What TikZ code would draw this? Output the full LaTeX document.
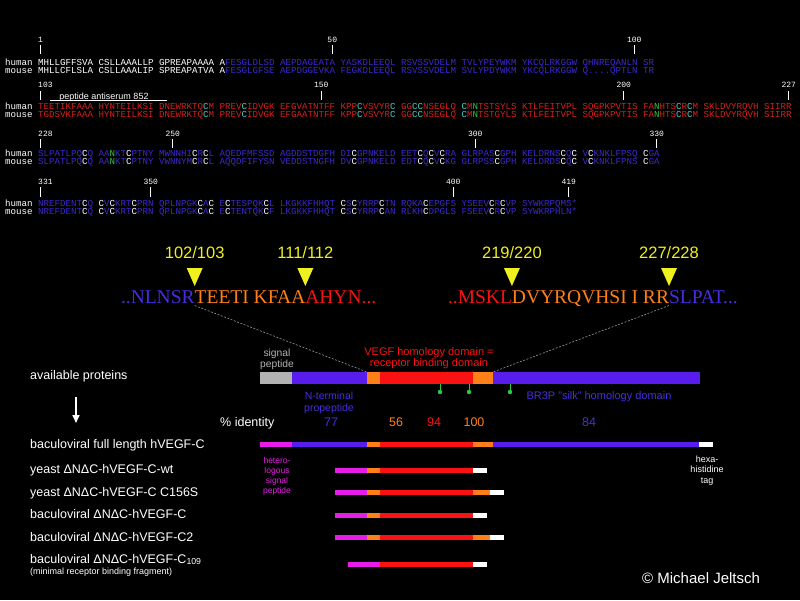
\documentclass[tikz,border=0pt]{standalone}
\usepackage{fontspec}
\setmainfont{Liberation Sans}
\newfontfamily\seqmono{Liberation Mono}
\newfontfamily\seqserif{Liberation Serif}
\usepackage{tikz}
\usetikzlibrary{arrows.meta, calc, positioning}
\definecolor{domblue}{RGB}{88,28,236}
\definecolor{domred}{RGB}{250,18,18}
\definecolor{domorange}{RGB}{255,128,24}
\definecolor{siggray}{RGB}{178,178,178}
\definecolor{hetmagenta}{RGB}{232,28,232}
\definecolor{txtblue}{RGB}{72,44,224}
\definecolor{seqblue}{RGB}{60,40,205}
\definecolor{seqred}{RGB}{215,32,24}
\definecolor{cyscyan}{RGB}{70,205,205}
\definecolor{glygreen}{RGB}{40,205,60}
\definecolor{cutyellow}{RGB}{240,240,30}
\definecolor{cutgray}{RGB}{150,150,150}
\newcommand\cysC{\textcolor{cyscyan}{C}}
\newcommand\cysW{\textcolor{white}{C}}
\newcommand\glyN{\textcolor{glygreen}{N}}

\begin{document}
\begin{tikzpicture}[x=1pt, y=-1pt,
  seqrow/.style={anchor=base west, inner sep=0pt, text=white, font=\seqmono\fontsize{9.165}{10}\selectfont},
  posnum/.style={inner sep=0pt, text=white, font=\seqmono\fontsize{8}{9}\selectfont},
  postick/.style={white, line width=0.6pt},
  cutseq/.style={anchor=base west, inner sep=0pt, outer sep=0pt, font=\seqserif\fontsize{19.5}{21}\selectfont},
  cutlbl/.style={inner sep=0pt, text=cutyellow, font=\fontsize{16.5}{18}\selectfont},
  cutline/.style={cutgray, line width=0.6pt, dash pattern=on 2pt off 1.5pt},
  seg/.style={rectangle, inner sep=0pt, outer sep=0pt, minimum height=12pt},
  cseg/.style={rectangle, inner sep=0pt, outer sep=0pt, minimum height=5pt},
  domlbl/.style={align=center, inner sep=0pt, font=\fontsize{10.5}{11.5}\selectfont},
  pctnum/.style={anchor=base, inner sep=0pt, font=\fontsize{12.5}{14}\selectfont},
  protlbl/.style={anchor=base west, inner sep=0pt, text=white, font=\fontsize{12.5}{14}\selectfont},
  glypin/.style={glygreen, line width=0.9pt}]

\path[use as bounding box, fill=black] (0,0) rectangle (800,600);

\begin{scope}
  \node[posnum, anchor=west] (n1) at (38,40) {1};   \draw[postick] (40.75,45) -- (40.75,54);
  \node[posnum] (n50) at (332.25,40) {50};          \draw[postick] (332.25,45) -- (332.25,54);
  \node[posnum] (n100) at (634.25,40) {100};        \draw[postick] (634.25,45) -- (634.25,54);
  \node[seqrow] (hum1) at (5,65) {human MHLLGFFSVA CSLLAAALLP GPREAPAAAA A\textcolor{seqblue}{FESGLDLSD AEPDAGEATA YASKDLEEQL RSVSSVDELM TVLYPEYWKM YKCQLRKGGW QHNREQANLN SR}};
  \node[seqrow] (mou1) at (5,73.5) {mouse MHLLCFLSLA CSLLAAALIP SPREAPATVA A\textcolor{seqblue}{FESGLGFSE AEPDGGEVKA FEGKDLEEQL RSVSSVDELM SVLYPDYWKM YKCQLRKGGW Q....QPTLN TR}};

  \node[posnum, anchor=west] (n103) at (38,85) {103}; \draw[postick] (40.75,91) -- (40.75,100);
  \node[posnum] (n150) at (321.25,85) {150};          \draw[postick] (321.25,91) -- (321.25,100);
  \node[posnum] (n200) at (623.75,85) {200};          \draw[postick] (623.75,91) -- (623.75,100);
  \node[posnum] (n227) at (788.75,85) {227};          \draw[postick] (788.75,91) -- (788.75,100);
  \node[anchor=base, inner sep=0pt, text=white, font=\fontsize{9}{10}\selectfont] (anti) at (104,99) {peptide antiserum 852};
  \draw[white, line width=0.6pt] (50,100.7) -- (167,100.7);
  \node[seqrow] (hum2) at (5,109) {human \textcolor{seqred}{TEETIKFAAA HYNTEILKSI DNEWRKTQ\cysC{}M PREV\cysC{}IDVGK EFGVATNTFF KPP\cysC{}VSVYR\cysC{} GG\cysC\cysC{}NSEGLQ \cysC{}M\glyN{}TSTSYLS KTLFEITVPL SQGPKPVTIS FA\glyN{}HTS\cysC{}R\cysC{}M SKLDVYRQVH SIIRR}};
  \node[seqrow] (mou2) at (5,117.5) {mouse \textcolor{seqred}{TGDSVKFAAA HYNTEILKSI DNEWRKTQ\cysC{}M PREV\cysC{}IDVGK EFGAATNTFF KPP\cysC{}VSVYR\cysC{} GG\cysC\cysC{}NSEGLQ \cysC{}M\glyN{}TSTGYLS KTLFEITVPL SQGPKPVTIS FA\glyN{}HTS\cysC{}R\cysC{}M SKLDVYRQVH SIIRR}};

  \node[posnum, anchor=west] (n228) at (38,133.5) {228}; \draw[postick] (40.75,139) -- (40.75,148);
  \node[posnum] (n250) at (172.75,133.5) {250};          \draw[postick] (172.75,139) -- (172.75,148);
  \node[posnum] (n300) at (475.25,133.5) {300};          \draw[postick] (475.25,139) -- (475.25,148);
  \node[posnum] (n330) at (656.75,133.5) {330};          \draw[postick] (656.75,139) -- (656.75,148);
  \node[seqrow] (hum3) at (5,156) {human \textcolor{seqblue}{SLPATLPQ\cysW{}Q AA\glyN{}KT\cysW{}PTNY MWNNHI\cysW{}R\cysW{}L AQEDFMFSSD AGDDSTDGFH DI\cysW{}GPNKELD EET\cysW{}Q\cysW{}V\cysW{}RA GLRPAS\cysW{}GPH KELDRNS\cysW{}Q\cysW{} V\cysW{}KNKLFPSQ \cysW{}GA}};
  \node[seqrow] (mou3) at (5,164.5) {mouse \textcolor{seqblue}{SLPATLPQ\cysW{}Q AA\glyN{}KT\cysW{}PTNY VWNNYM\cysW{}R\cysW{}L AQQDFIFYSN VEDDSTNGFH DV\cysW{}GPNKELD EDT\cysW{}Q\cysW{}V\cysW{}KG GLRPSS\cysW{}GPH KELDRDS\cysW{}Q\cysW{} V\cysW{}KNKLFPNS \cysW{}GA}};

  \node[posnum, anchor=west] (n331) at (38,182) {331}; \draw[postick] (40.75,187) -- (40.75,197);
  \node[posnum] (n350) at (150.75,182) {350};          \draw[postick] (150.75,187) -- (150.75,197);
  \node[posnum] (n400) at (453.25,182) {400};          \draw[postick] (453.25,187) -- (453.25,197);
  \node[posnum] (n419) at (568.75,182) {419};          \draw[postick] (568.75,187) -- (568.75,197);
  \node[seqrow] (hum4) at (5,206) {human \textcolor{seqblue}{NREFDENT\cysW{}Q \cysW{}V\cysW{}KRT\cysW{}PRN QPLNPGK\cysW{}A\cysW{} E\cysW{}TESPQK\cysW{}L LKGKKFHHQT \cysW{}S\cysW{}YRRP\cysW{}TN RQKA\cysW{}EPGFS YSEEV\cysW{}R\cysW{}VP SYWKRPQMS*}};
  \node[seqrow] (mou4) at (5,214.5) {mouse \textcolor{seqblue}{NREFDENT\cysW{}Q \cysW{}V\cysW{}KRT\cysW{}PRN QPLNPGK\cysW{}A\cysW{} E\cysW{}TENTQK\cysW{}F LKGKKFHHQT \cysW{}S\cysW{}YRRP\cysW{}AN RLKH\cysW{}DPGLS FSEEV\cysW{}R\cysW{}VP SYWKRPHLN*}};
\end{scope}

\begin{scope}
  \node[cutseq, text=txtblue] (nlnsr) at (121,303.5) {..NLNSR};
  \node[cutseq, text=domorange] (teeti) at (nlnsr.base east) {TEETI KFAA};
  \node[cutseq, text=domred] (ahyn) at (teeti.base east) {AHYN...};
  \node[cutseq, text=domred] (mskl) at (448,303.5) {..MSKL};
  \node[cutseq, text=domorange] (dvyr) at (mskl.base east) {DVYRQVHSI I RR};
  \node[cutseq, text=txtblue] (slpat) at (dvyr.base east) {SLPAT...};
  \node[cutlbl] (c102) at ($(nlnsr.base east)+(0,-50.5)$) {102/103};
  \node[cutlbl] (c111) at ($(teeti.base east)+(0,-50.5)$) {111/112};
  \node[cutlbl] (c219) at ($(mskl.base east)+(0,-50.5)$) {219/220};
  \node[cutlbl] (c227) at ($(dvyr.base east)+(0,-50.5)$) {227/228};
  \fill[cutyellow] ($(nlnsr.base east)+(-8,-35.5)$) -- ++(16,0) -- ++(-8,18) -- cycle;
  \fill[cutyellow] ($(teeti.base east)+(-8,-35.5)$) -- ++(16,0) -- ++(-8,18) -- cycle;
  \fill[cutyellow] ($(mskl.base east)+(-8,-35.5)$) -- ++(16,0) -- ++(-8,18) -- cycle;
  \fill[cutyellow] ($(dvyr.base east)+(-8,-35.5)$) -- ++(16,0) -- ++(-8,18) -- cycle;
  \coordinate (cutN) at ($(nlnsr.base east)+(0,2)$);
  \coordinate (cutC) at ($(dvyr.base east)+(0,2)$);
\end{scope}

\begin{scope}
  \node[seg, fill=siggray, minimum width=32pt, anchor=west] (sigpep) at (260,378) {};
  \node[seg, fill=domblue, minimum width=75pt, right=0pt of sigpep] (nprop) {};
  \node[seg, fill=domorange, minimum width=13pt, right=0pt of nprop] (ncut) {};
  \node[seg, fill=domred, minimum width=93pt, right=0pt of ncut] (vhd) {};
  \node[seg, fill=domorange, minimum width=20pt, right=0pt of vhd] (ccut) {};
  \node[seg, fill=domblue, minimum width=207pt, right=0pt of ccut] (silk) {};
  \draw[cutline] (cutN) -- (ncut.north west);
  \draw[cutline] (cutC) -- (ccut.north east);
  \node[domlbl, text=siggray, font=\fontsize{10.3}{11}\selectfont] (sigtxt) at (277,359) {signal\\peptide};
  \node[domlbl, text=domred, font=\fontsize{11}{11}\selectfont] (vhdtxt) at (429,358) {VEGF homology domain =\\receptor binding domain};
  \node[domlbl, text=txtblue, font=\fontsize{10.5}{12}\selectfont] (nprotxt) at (329,402.5) {N-terminal\\propeptide};
  \node[anchor=base, inner sep=0pt, text=txtblue, font=\fontsize{11}{12}\selectfont] (silktxt) at (599,399) {BR3P "silk" homology domain};
  \draw[glypin] (440,384) -- (440,391); \fill[glygreen] (440,392) circle (2.2pt);
  \draw[glypin] (469,384) -- (469,391); \fill[glygreen] (469,392) circle (2.2pt);
  \draw[glypin] (510,384) -- (510,391); \fill[glygreen] (510,392) circle (2.2pt);
  \node[protlbl] (pctid) at (220,426) {\% identity};
  \node[pctnum, text=txtblue] (id77) at (331,426) {77};
  \node[pctnum, text=domorange] (id56) at (396,426) {56};
  \node[pctnum, text=domred] (id94) at (434,426) {94};
  \node[pctnum, text=domorange] (id100) at (474,426) {100};
  \node[pctnum, text=txtblue] (id84) at (589,426) {84};
\end{scope}

\begin{scope}
  \node[protlbl] (avail) at (30,379) {available proteins};
  \coordinate (arrtop) at (76,397); \coordinate (arrtip) at (76,423);
  \draw[white, line width=1.6pt, -{Triangle[length=8pt, width=7pt]}] (arrtop) -- (arrtip);

  \node[protlbl] (full) at (30,448.5) {baculoviral full length hVEGF-C};
  \node[protlbl] (ywt) at (30,473.5) {yeast ΔNΔC-hVEGF-C-wt};
  \node[protlbl] (ycs) at (30,496) {yeast ΔNΔC-hVEGF-C C156S};
  \node[protlbl] (bdnc) at (30,518.5) {baculoviral ΔNΔC-hVEGF-C};
  \node[protlbl] (bc2) at (30,541) {baculoviral ΔNΔC-hVEGF-C2};
  \node[protlbl] (b109) at (30,563) {baculoviral ΔNΔC-hVEGF-C\textsubscript{109}};
  \node[anchor=base west, inner sep=0pt, text=white, font=\fontsize{9}{10}\selectfont] (minrb) at (30,574.5) {(minimal receptor binding fragment)};

  \node[cseg, fill=hetmagenta, minimum width=32pt, anchor=west] (fa1) at (260,444.5) {};
  \node[cseg, fill=domblue, minimum width=75pt, right=0pt of fa1] (fa2) {};
  \node[cseg, fill=domorange, minimum width=13pt, right=0pt of fa2] (fa3) {};
  \node[cseg, fill=domred, minimum width=93pt, right=0pt of fa3] (fa4) {};
  \node[cseg, fill=domorange, minimum width=20pt, right=0pt of fa4] (fa5) {};
  \node[cseg, fill=domblue, minimum width=206pt, right=0pt of fa5] (fa6) {};
  \node[cseg, fill=white, minimum width=14pt, right=0pt of fa6] (fa7) {};

  \node[cseg, fill=hetmagenta, minimum width=32pt, anchor=west] (wt1) at (335,470) {};
  \node[cseg, fill=domorange, minimum width=13pt, right=0pt of wt1] (wt2) {};
  \node[cseg, fill=domred, minimum width=93pt, right=0pt of wt2] (wt3) {};
  \node[cseg, fill=white, minimum width=14pt, right=0pt of wt3] (wt4) {};

  \node[cseg, fill=hetmagenta, minimum width=32pt, anchor=west] (cs1) at (335,492.5) {};
  \node[cseg, fill=domorange, minimum width=13pt, right=0pt of cs1] (cs2) {};
  \node[cseg, fill=domred, minimum width=93pt, right=0pt of cs2] (cs3) {};
  \node[cseg, fill=domorange, minimum width=17pt, right=0pt of cs3] (cs4) {};
  \node[cseg, fill=white, minimum width=14pt, right=0pt of cs4] (cs5) {};

  \node[cseg, fill=hetmagenta, minimum width=32pt, anchor=west] (bd1) at (335,515) {};
  \node[cseg, fill=domorange, minimum width=13pt, right=0pt of bd1] (bd2) {};
  \node[cseg, fill=domred, minimum width=93pt, right=0pt of bd2] (bd3) {};
  \node[cseg, fill=white, minimum width=14pt, right=0pt of bd3] (bd4) {};

  \node[cseg, fill=hetmagenta, minimum width=32pt, anchor=west] (c21) at (335,537.5) {};
  \node[cseg, fill=domorange, minimum width=13pt, right=0pt of c21] (c22) {};
  \node[cseg, fill=domred, minimum width=93pt, right=0pt of c22] (c23) {};
  \node[cseg, fill=domorange, minimum width=17pt, right=0pt of c23] (c24) {};
  \node[cseg, fill=white, minimum width=14pt, right=0pt of c24] (c25) {};

  \node[cseg, fill=hetmagenta, minimum width=32pt, anchor=west] (mr1) at (348,564) {};
  \node[cseg, fill=domred, minimum width=93pt, right=0pt of mr1] (mr2) {};
  \node[cseg, fill=white, minimum width=14pt, right=0pt of mr2] (mr3) {};

  \node[domlbl, text=hetmagenta, font=\fontsize{8.5}{10}\selectfont] (hetlbl) at (277,476) {hetero-\\logous\\signal\\peptide};
  \node[domlbl, text=white, font=\fontsize{9}{10.5}\selectfont] (hislbl) at (707,470.5) {hexa-\\histidine\\tag};
  \node[anchor=base west, inner sep=0pt, text=white, font=\fontsize{15}{17}\selectfont] (copy) at (642,583) {© Michael Jeltsch};
\end{scope}

\end{tikzpicture}
\end{document}
